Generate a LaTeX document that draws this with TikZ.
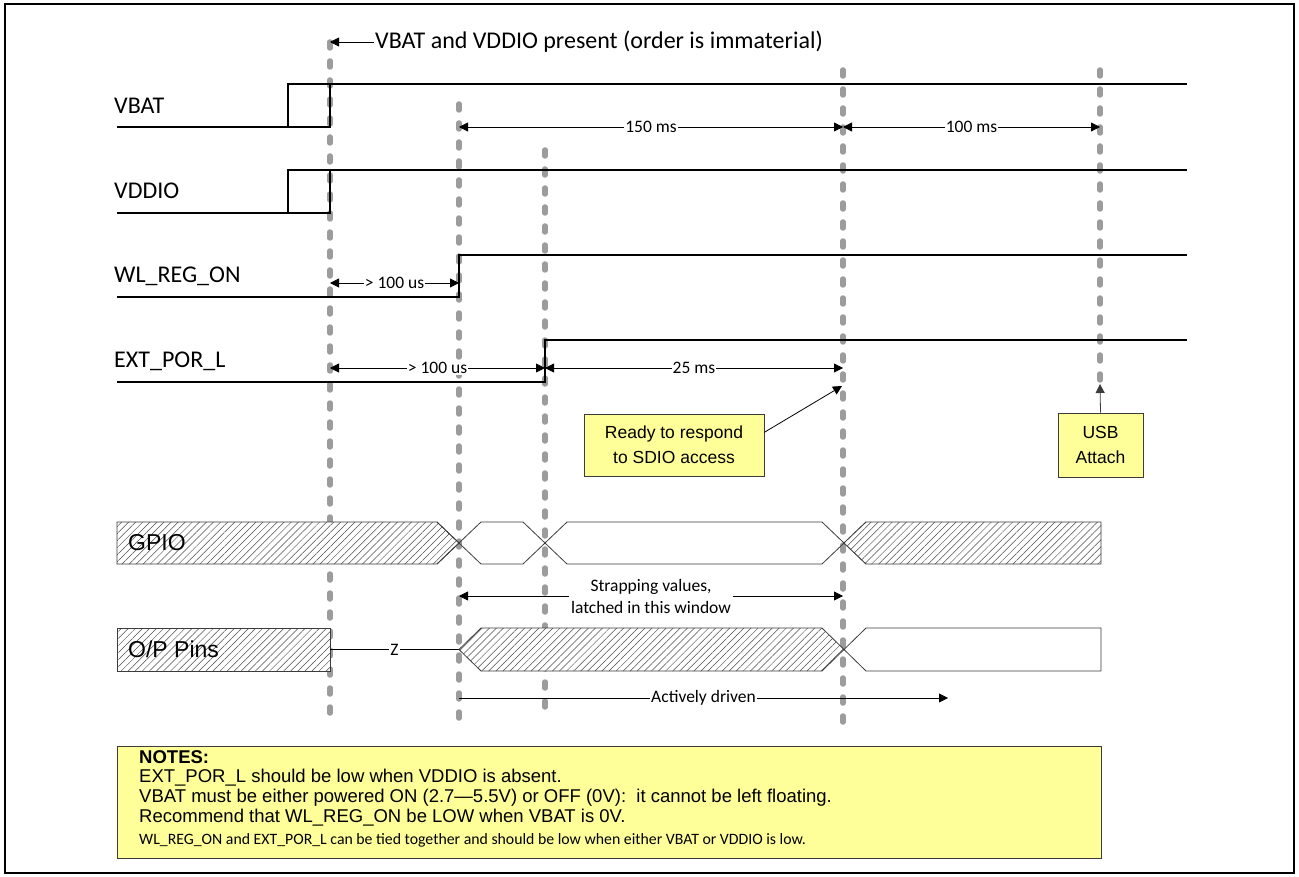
\documentclass[tikz,border=0pt]{standalone}
\usepackage{fontspec}
\setmainfont{Carlito}
\newfontfamily\arialfont{Liberation Sans}
\usetikzlibrary{arrows.meta,patterns.meta}
\definecolor{tdGray}{HTML}{9C9C9C}
\definecolor{tdYellow}{HTML}{FFFF99}
\definecolor{tdEdge}{HTML}{3C3C3C}
\newcommand\tightlines{\setlength{\lineskiplimit}{-30pt}}

\begin{document}
\begin{tikzpicture}[x=1pt, y=-1pt,
    sig/.style={line width=2pt, line join=miter},
    tmark/.style={draw=tdGray, line width=5.5pt, line cap=round, dash pattern=on 6pt off 13pt},
    dim/.style={{Triangle[length=9pt,width=9pt]}-{Triangle[length=9pt,width=9pt]}, line width=0.8pt},
    ptr/.style={-{Triangle[length=9pt,width=9pt]}, line width=0.8pt},
    dimlbl/.style={fill=white, inner sep=1pt, font=\fontsize{17.5}{22}\selectfont},
    siglbl/.style={anchor=west, inner sep=0pt, font=\fontsize{24}{28}\selectfont},
    hatch/.style={draw=tdEdge, line width=0.8pt, preaction={fill=white},
                  pattern={Lines[angle=45,distance=5pt,line width=0.5pt]}, pattern color=black!70},
    bus/.style={draw=tdEdge, line width=0.8pt},
    busl/.style={anchor=west, inner sep=0pt, font=\arialfont\fontsize{23}{27}\selectfont},
    note/.style={draw=tdEdge, fill=#1, line width=0.8pt, align=center,
                 font=\arialfont\fontsize{17.5}{25}\selectfont},
    note/.default=tdYellow
]
    \useasboundingbox (0,0) rectangle (1299,877);
    \draw[line width=2.5pt] (5,4) rectangle (1294,873);

    % --- time marks ---
    \foreach \n/\x/\ya/\yb in {1/330/42/720, 2/459/104/720, 3/545/150/718, 4/843/70/722, 5/1100/70/384} {
        \coordinate (m\n t) at (\x,\ya);
        \coordinate (m\n b) at (\x,\yb);
        \draw[tmark] (m\n t) -- (m\n b);
    }

    % --- supplies ---
    \node[siglbl] (vbatL) at (114,106) {VBAT};
    \draw[sig] (117,127) -- (288,127) -- (288,84) -- (1187,84);
    \draw[sig] (288,127) -- (330,127) -- (330,84);
    \node[siglbl] (vddioL) at (114,191) {VDDIO};
    \draw[sig] (117,213) -- (288,213) -- (288,170) -- (1187,170);
    \draw[sig] (288,213) -- (330,213) -- (330,170);

    \node[anchor=west, inner sep=1pt, font=\fontsize{24}{28}\selectfont] (presentL) at (374,42)
        {VBAT and VDDIO present (order is immaterial)};
    \draw[ptr] (presentL.west) -- (m1t);

    \coordinate (yTop) at (0,127);
    \draw[dim] (m2t |- yTop) -- node[dimlbl] (t150) {150 ms} (m4t |- yTop);
    \draw[dim] (m4t |- yTop) -- node[dimlbl] (t100) {100 ms} (m5t |- yTop);

    % --- enables ---
    \node[siglbl] (wlL) at (114,276) {WL\_REG\_ON};
    \draw[sig] (117,297) -- (459,297) -- (459,255) -- (1187,255);
    \node[siglbl] (porL) at (114,361) {EXT\_POR\_L};
    \draw[sig] (117,382) -- (545,382) -- (545,340) -- (1187,340);

    \coordinate (yWl) at (0,283);
    \coordinate (yPor) at (0,368);
    \draw[dim] (m1t |- yWl) -- node[dimlbl] (tWl) {> 100 us} (m2t |- yWl);
    \draw[dim] (m1t |- yPor) -- node[dimlbl] (tPor) {> 100 us} (m3t |- yPor);
    \draw[dim] (m3t |- yPor) -- node[dimlbl] (t25) {25 ms} (m4t |- yPor);

    % --- call-outs ---
    \node[note, minimum width=180pt, minimum height=62pt] (ready) at (674,445)
        {Ready to respond\\to SDIO access};
    \coordinate (readyTip) at (842,386);
    \draw[ptr] (ready.8) -- (readyTip);
    \node[note, minimum width=85pt, minimum height=64pt] (usb) at (1100.5,445) {USB\\Attach};
    \draw[ptr, draw=tdEdge] (usb.north) -- (m5b);

    % --- GPIO bus ---
    \draw[hatch] (117,522) -- (437,522) -- (459,543) -- (437,564) -- (117,564) -- cycle;
    \node[busl] (gpioL) at (128,543) {GPIO};
    \draw[bus] (437,522) -- (481,564) -- (523,564) -- (567,522) -- (822,522) -- (866,564);
    \draw[bus] (437,564) -- (481,522) -- (523,522) -- (567,564) -- (822,564) -- (866,522);
    \draw[hatch] (1101,522) -- (866,522) -- (844,543) -- (866,564) -- (1101,564) -- cycle;

    \node[inner sep=2pt, align=center, font=\fontsize{17.5}{22}\selectfont] (strapL) at (651,596)
        {Strapping values,\\latched in this window};
    \draw[ptr] (strapL.west) -- (strapL.west -| m2t);
    \draw[ptr] (strapL.east) -- (strapL.east -| m4t);

    % --- O/P pins ---
    \draw[hatch] (117,628) rectangle (330,671);
    \node[busl] (opL) at (128,649.5) {O/P Pins};
    \coordinate (zA) at (330,649.5);
    \coordinate (zB) at (459,649.5);
    \draw[line width=1.2pt] (zA) -- node[dimlbl] (zL) {Z} (zB);
    \draw[hatch] (459,649.5) -- (481,628) -- (822,628) -- (844,649.5) -- (822,671) -- (481,671) -- cycle;
    \draw[bus] (844,649.5) -- (866,628) -- (1101,628) -- (1101,671) -- (866,671) -- cycle;

    \coordinate (driveEnd) at (948,698);
    \draw[ptr] (m2t |- driveEnd) -- node[dimlbl] (driveL) {Actively driven} (driveEnd);

    % --- notes ---
    \node[note, anchor=north west, minimum width=984pt, minimum height=112pt] (notes) at (117,746) {};
    \node[anchor=north west, inner sep=0pt, align=left, execute at begin node=\tightlines,
          font=\arialfont\fontsize{18.5}{19.7}\selectfont] (notesT) at (139,750)
        {\textbf{NOTES:}\\
         EXT\_POR\_L should be low when VDDIO is absent.\\
         VBAT must be either powered ON (2.7—5.5V) or OFF (0V):\ \ it cannot be left floating.\\
         Recommend that WL\_REG\_ON be LOW when VBAT is 0V.\\[3pt]
         {\rmfamily\fontsize{15.8}{20}\selectfont WL\_REG\_ON and EXT\_POR\_L can be tied together and should be low when either VBAT or VDDIO is low.}};
\end{tikzpicture}
\end{document}
